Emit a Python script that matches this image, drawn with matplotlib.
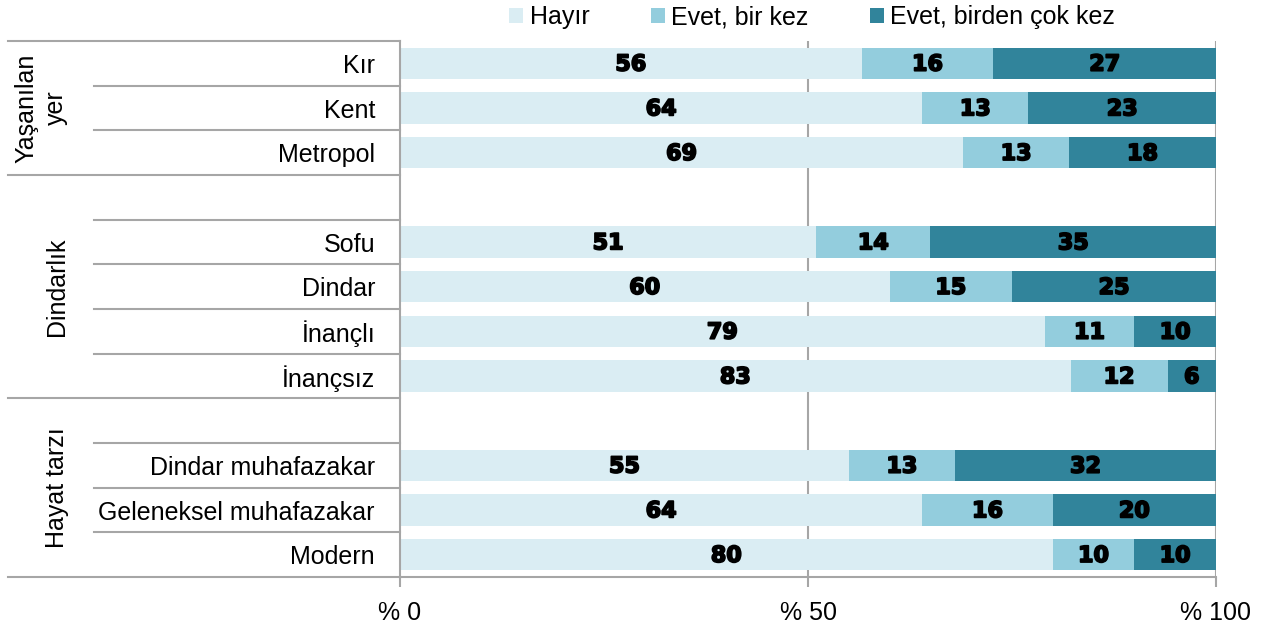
import matplotlib
matplotlib.use("Agg")
import matplotlib.pyplot as plt
import matplotlib.transforms as mtransforms
import matplotlib.patheffects as pe
from matplotlib.patches import Patch
import numpy as np

# Satırlar (boş satırlar grup aralarındaki boşluklar)
ROWS = ["Kır", "Kent", "Metropol", "",
        "Sofu", "Dindar", "İnançlı", "İnançsız", "",
        "Dindar muhafazakar", "Geleneksel muhafazakar", "Modern"]
HAYIR = [56, 64, 69, 0, 51, 60, 79, 83, 0, 55, 64, 80]
BIR_KEZ = [16, 13, 13, 0, 14, 15, 11, 12, 0, 13, 16, 10]
COK_KEZ = [27, 23, 18, 0, 35, 25, 10, 6, 0, 32, 20, 10]
SERIES = ["Hayır", "Evet, bir kez", "Evet, birden çok kez"]
COLORS = ["#DAEDF3", "#93CDDD", "#31849B"]
GROUPS = ["Yaşanılan\nyer", "Dindarlık", "Hayat tarzı"]
GROUP_SPANS = [(0, 2), (3, 7), (8, 11)]
XTICKS = [0, 50, 100]
XTICK_LABELS = ["% 0", "% 50", "% 100"]

GRAY = "#A6A6A6"
W, H = 1271, 623

fig = plt.figure(figsize=(W / 100, H / 100), dpi=100)
ax = fig.add_axes([400 / W, 46 / H, 816 / W, 536 / H])

vals = np.array([HAYIR, BIR_KEZ, COK_KEZ], dtype=float)
tot = vals.sum(axis=0)
tot[tot == 0] = 1
pct = vals / tot * 100
y = np.arange(len(ROWS))

heavy = [pe.withStroke(linewidth=1.3, foreground="black")]
left = np.zeros(len(ROWS))
for i, name in enumerate(SERIES):
    ax.barh(y, pct[i], left=left, height=0.7, color=COLORS[i], label=name, zorder=2)
    for j in range(len(ROWS)):
        if vals[i, j] > 0:
            ax.text(left[j] + pct[i, j] / 2, y[j] + 0.03, f"{int(vals[i, j])}",
                    ha="center", va="center", fontsize=16, fontweight="bold",
                    family="DejaVu Sans", color="black", zorder=3,
                    path_effects=heavy)
    left += pct[i]

ax.set_xlim(0, 100)
ax.set_ylim(len(ROWS) - 0.5, -0.5)
ax.set_xticks(XTICKS)
ax.set_xticklabels(XTICK_LABELS, fontsize=18, family="Liberation Sans")
ax.tick_params(axis="x", direction="out", length=7, width=1.5, color=GRAY, pad=10)
ax.set_yticks(y)
ax.set_yticklabels(ROWS, fontsize=18, family="Liberation Sans")
ax.tick_params(axis="y", length=0, pad=18)

for s in ["top", "right"]:
    ax.spines[s].set_visible(False)
for s in ["left", "bottom"]:
    ax.spines[s].set_color(GRAY)
    ax.spines[s].set_linewidth(1.5)
for xv in [50, 100]:
    ax.axvline(xv, color=GRAY, lw=1.5, zorder=1)

# tablo çizgileri (sol taraf)
trans = mtransforms.blended_transform_factory(ax.transAxes, ax.transData)
full_x0 = (8 - 400) / 816
part_x0 = (94 - 400) / 816
for b in np.arange(-0.5, len(ROWS), 1.0):
    is_full = any(abs(b - (s - 0.5)) < 1e-6 or abs(b - (e + 0.5)) < 1e-6 for s, e in GROUP_SPANS)
    x0 = full_x0 if is_full else part_x0
    ax.plot([x0, 0], [b, b], color=GRAY, lw=1.5, transform=trans, clip_on=False, zorder=1)

group_x = [(41 - 400) / 816, (57 - 400) / 816, (57 - 400) / 816]
for gname, (s, e), gx in zip(GROUPS, GROUP_SPANS, group_x):
    ax.text(gx, (s + e) / 2, gname, rotation=90, ha="center", va="center",
            multialignment="center", fontsize=18, family="Liberation Sans",
            linespacing=1.25, transform=trans)

handles = [Patch(facecolor=c, edgecolor="none") for c in COLORS]
fig.legend(handles, SERIES, loc="center", bbox_to_anchor=(812 / W, 1 - 17 / H),
           ncol=3, frameon=False, handlelength=0.56, handleheight=0.56,
           handletextpad=0.25, columnspacing=2.45,
           prop={"family": "Liberation Sans", "size": 18})

fig.savefig("out.png", dpi=100)
